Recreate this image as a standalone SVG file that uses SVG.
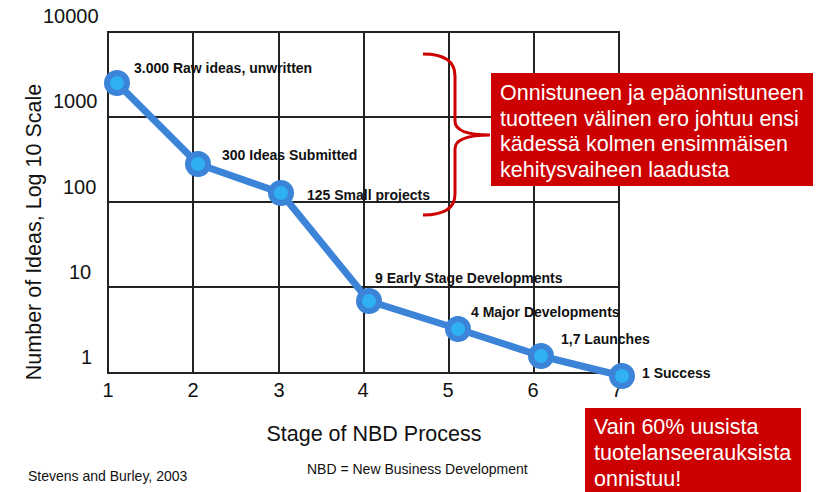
<svg xmlns="http://www.w3.org/2000/svg" width="817" height="492" viewBox="0 0 817 492">
<style>
.grid{stroke:#222;stroke-width:2;fill:none}
.ax{font-family:"Liberation Sans",Arial,sans-serif;font-size:20px;fill:#111}
.ttl{font-family:"Liberation Sans",Arial,sans-serif;font-size:21.5px;fill:#111}
.lbl{font-family:"Liberation Sans",Arial,sans-serif;font-size:14px;font-weight:bold;fill:#111}
.note{font-family:"Liberation Sans",Arial,sans-serif;font-size:14px;fill:#111}
.box{fill:#cc0000}
.boxt{font-family:"Liberation Sans",Arial,sans-serif;font-size:21.5px;fill:#fff}
.pt-o{fill:#3b84d8}
.pt-i{fill:#2fb0f5}
</style>
<rect width="817" height="492" fill="#fff"/>
<g id="grid">
<rect class="grid" x="108" y="32" width="511" height="341"/>
<line class="grid" x1="193" y1="32" x2="193" y2="373"/>
<line class="grid" x1="279" y1="32" x2="279" y2="373"/>
<line class="grid" x1="364" y1="32" x2="364" y2="373"/>
<line class="grid" x1="449" y1="32" x2="449" y2="373"/>
<line class="grid" x1="534" y1="32" x2="534" y2="373"/>
<line class="grid" x1="108" y1="117" x2="619" y2="117"/>
<line class="grid" x1="108" y1="202" x2="619" y2="202"/>
<line class="grid" x1="108" y1="287" x2="619" y2="287"/>
</g>
<g id="y-axis">
<text class="ax" x="43" y="23">10000</text>
<text class="ax" x="53" y="108">1000</text>
<text class="ax" x="63" y="194">100</text>
<text class="ax" x="69" y="279">10</text>
<text class="ax" x="81" y="364">1</text>
<text class="ttl" text-anchor="middle" transform="translate(41,232) rotate(-90)">Number of Ideas, Log 10 Scale</text>
</g>
<g id="x-axis">
<text class="ax" text-anchor="middle" x="108" y="397">1</text>
<text class="ax" text-anchor="middle" x="193" y="397">2</text>
<text class="ax" text-anchor="middle" x="279" y="397">3</text>
<text class="ax" text-anchor="middle" x="363" y="397">4</text>
<text class="ax" text-anchor="middle" x="448" y="397">5</text>
<text class="ax" text-anchor="middle" x="533" y="397">6</text>
<text class="ax" text-anchor="middle" x="617" y="397">7</text>
<text class="ttl" text-anchor="middle" x="374" y="441">Stage of NBD Process</text>
</g>
<g id="connectors">
<polyline points="117,83 198,164 281,193 369,301 458,329 541,356 622,376" fill="none" stroke="#3b84d8" stroke-width="7" stroke-linejoin="round"/>
</g>
<g id="p1"><circle class="pt-o" cx="117" cy="83" r="13"/><circle class="pt-i" cx="117" cy="83" r="7"/><text class="lbl" x="134" y="73">3.000 Raw ideas, unwritten</text></g>
<g id="p2"><circle class="pt-o" cx="198" cy="164" r="13"/><circle class="pt-i" cx="198" cy="164" r="7"/><text class="lbl" x="222" y="160">300 Ideas Submitted</text></g>
<g id="p3"><circle class="pt-o" cx="281" cy="193" r="13"/><circle class="pt-i" cx="281" cy="193" r="7"/><text class="lbl" x="307" y="200">125 Small projects</text></g>
<g id="p4"><circle class="pt-o" cx="369" cy="301" r="13"/><circle class="pt-i" cx="369" cy="301" r="7"/><text class="lbl" x="375" y="283">9 Early Stage Developments</text></g>
<g id="p5"><circle class="pt-o" cx="458" cy="329" r="13"/><circle class="pt-i" cx="458" cy="329" r="7"/><text class="lbl" x="471" y="317">4 Major Developments</text></g>
<g id="p6"><circle class="pt-o" cx="541" cy="356" r="13"/><circle class="pt-i" cx="541" cy="356" r="7"/><text class="lbl" x="561" y="344">1,7 Launches</text></g>
<g id="p7"><circle class="pt-o" cx="622" cy="376" r="13"/><circle class="pt-i" cx="622" cy="376" r="7"/><text class="lbl" x="642" y="378">1 Success</text></g>
<g id="brace">
<path d="M423,54 Q455,54 455,76 L455,121 Q455,135 490,135 Q455,135 455,149 L455,194 Q455,215 423,215" fill="none" stroke="#cc0000" stroke-width="3"/>
</g>
<g id="callout1">
<rect class="box" x="491" y="73" width="322" height="113"/>
<text class="boxt" x="500" y="100">Onnistuneen ja epäonnistuneen</text>
<text class="boxt" x="500" y="125.5">tuotteen välinen ero johtuu ensi</text>
<text class="boxt" x="500" y="151">kädessä kolmen ensimmäisen</text>
<text class="boxt" x="500" y="177">kehitysvaiheen laadusta</text>
</g>
<g id="callout2">
<rect class="box" x="585" y="408" width="216" height="90"/>
<text class="boxt" x="594" y="434">Vain 60% uusista</text>
<text class="boxt" x="594" y="460">tuotelanseerauksista</text>
<text class="boxt" x="594" y="486">onnistuu!</text>
</g>
<g id="notes">
<text class="note" x="28" y="481">Stevens and Burley, 2003</text>
<text class="note" x="307" y="474">NBD = New Business Development</text>
</g>
</svg>
